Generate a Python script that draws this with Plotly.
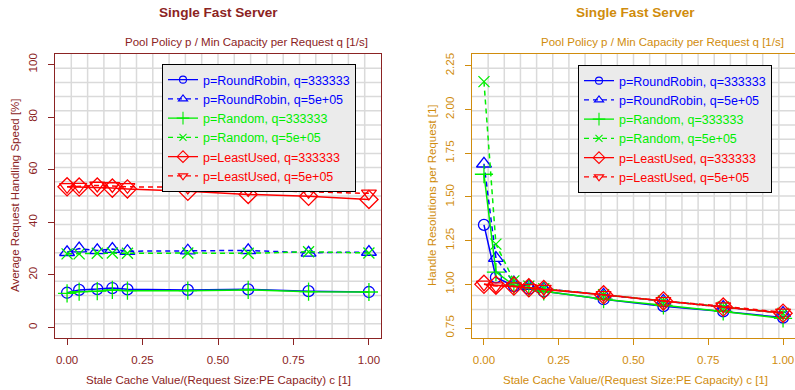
import plotly.graph_objects as go

# ---------------- data ----------------
c_values = [0, 0.04, 0.1, 0.15, 0.2, 0.4, 0.6, 0.8, 1.0]

series_names = [
    "p=RoundRobin, q=333333",
    "p=RoundRobin, q=5e+05",
    "p=Random, q=333333",
    "p=Random, q=5e+05",
    "p=LeastUsed, q=333333",
    "p=LeastUsed, q=5e+05",
]

# left: Average Request Handling Speed [%]
speed_rr_333 = [13.2, 14.3, 14.6, 15.0, 14.5, 14.3, 14.5, 13.8, 13.5]
speed_rr_5e5 = [28.6, 30.0, 29.3, 29.8, 29.0, 29.2, 29.3, 28.4, 28.7]
speed_rand_333 = [13.0, 13.6, 13.8, 14.3, 14.0, 14.0, 14.3, 13.6, 13.5]
speed_rand_5e5 = [28.0, 28.0, 28.2, 28.3, 28.2, 28.3, 28.2, 28.8, 28.3]
speed_lu_333 = [53.5, 53.4, 53.4, 53.0, 52.7, 51.8, 50.6, 49.9, 48.7]
speed_lu_5e5 = [53.5, 53.6, 54.0, 53.8, 53.5, 53.3, 52.3, 51.6, 51.0]

# right: Handle Resolutions per Request [1]
hr_rr_333 = [1.34, 1.04, 0.99, 0.975, 0.96, 0.915, 0.875, 0.845, 0.81]
hr_rr_5e5 = [1.69, 1.15, 1.01, 0.99, 0.975, 0.94, 0.905, 0.87, 0.835]
hr_rand_333 = [1.63, 1.07, 0.995, 0.98, 0.96, 0.915, 0.88, 0.845, 0.805]
hr_rand_5e5 = [2.16, 1.23, 1.02, 0.99, 0.975, 0.94, 0.905, 0.87, 0.835]
hr_lu_333 = [1.0, 0.995, 0.99, 0.98, 0.97, 0.94, 0.905, 0.87, 0.835]
hr_lu_5e5 = [1.0, 0.99, 0.99, 0.98, 0.975, 0.94, 0.905, 0.875, 0.84]

left_series = [speed_rr_333, speed_rr_5e5, speed_rand_333, speed_rand_5e5, speed_lu_333, speed_lu_5e5]
right_series = [hr_rr_333, hr_rr_5e5, hr_rand_333, hr_rand_5e5, hr_lu_333, hr_lu_5e5]

left_yticks = [0, 20, 40, 60, 80, 100]
right_yticks = [0.75, 1.00, 1.25, 1.50, 1.75, 2.00, 2.25]
xticks = [0, 0.25, 0.5, 0.75, 1.0]

# ---------------- styles ----------------
colors = ["#0000FF", "#0000FF", "#00EE00", "#00EE00", "#FF0000", "#FF0000"]
dashes = ["solid", "5px,4px", "solid", "5px,4px", "solid", "5px,4px"]
symbols = ["circle-open", "triangle-up-open", "cross-thin-open", "x-thin-open",
           "diamond-open", "triangle-down-open"]
sizes = [11, 13, 13, 11, 14, 13]
legend_sizes = [7, 8, 9, 7, 9, 8]

LEFT_COL = "#8B2323"
RIGHT_COL = "#D08C0C"
FONT = "Liberation Sans, Arial, Helvetica, sans-serif"
FS = 11.5

W, H = 795, 390
OFF = 0  # body margin removed below, so figure pixels == page pixels


def px(x):
    return (x - OFF) / W


def py(y):
    return 1 - (y - OFF) / H


ydom = [py(338), py(54)]
xdom_l = [px(55), px(381)]
xdom_r = [px(472), min(1.0, px(797))]

fig = go.Figure()

panels = (("x", "y", "legend", left_series), ("x2", "y2", "legend2", right_series))
for xa, ya, leg, data in panels:
    for i, (name, ys) in enumerate(zip(series_names, data)):
        fig.add_trace(go.Scatter(
            x=c_values, y=ys, mode="lines+markers", xaxis=xa, yaxis=ya,
            name=name, showlegend=False,
            line=dict(color=colors[i], width=1.5, dash=dashes[i]),
            marker=dict(symbol=symbols[i], size=sizes[i], color=colors[i],
                        line=dict(color=colors[i], width=1.3)),
        ))
    # legend entries (no data drawn; only the key)
    for i, name in enumerate(series_names):
        fig.add_trace(go.Scatter(
            x=[None], y=[None], mode="lines+markers", xaxis=xa, yaxis=ya,
            name=f"<span style='color:{colors[i]}'>{name}</span>",
            line=dict(color=colors[i], width=1.3, dash=dashes[i]),
            marker=dict(symbol=symbols[i], size=legend_sizes[i], color=colors[i],
                        line=dict(color=colors[i], width=1.1)),
            legend=leg, hoverinfo="skip",
        ))

# grid (20 divisions of the plotting region, like the original)
shapes = []
for xr, yr in (("x domain", "y domain"), ("x2 domain", "y2 domain")):
    for k in range(1, 20):
        f = k / 20
        shapes.append(dict(type="line", xref=xr, yref=yr, x0=f, x1=f, y0=0, y1=1,
                           line=dict(color="#DADADA", width=1.5), layer="below"))
        shapes.append(dict(type="line", xref=xr, yref=yr, x0=0, x1=1, y0=f, y1=f,
                           line=dict(color="#DADADA", width=1.5), layer="below"))


def xaxis(dom, col, anchor):
    return dict(domain=dom, anchor=anchor, range=[-0.04, 1.04], tickvals=xticks,
                ticktext=[f"{v:.2f}" for v in xticks], ticks="outside", ticklen=6,
                tickcolor=col, tickwidth=1, showline=True, mirror=True, linecolor=col,
                linewidth=1, showgrid=False, zeroline=False,
                tickfont=dict(family=FONT, size=FS, color=col), ticklabelstandoff=5)


def yaxis(rng, ticks, fmt, col, anchor):
    return dict(domain=ydom, anchor=anchor, range=rng, tickvals=ticks,
                ticktext=[fmt(v) for v in ticks], ticks="outside", ticklen=6,
                tickcolor=col, tickwidth=1, showline=True, mirror=True, linecolor=col,
                linewidth=1, showgrid=False, zeroline=False, tickangle=-90,
                tickfont=dict(family=FONT, size=FS, color=col), ticklabelstandoff=6)


legend_common = dict(bgcolor="#EBEBEB", bordercolor="#000000", borderwidth=1,
                     font=dict(family=FONT, size=12.5), xanchor="left", yanchor="top",
                     tracegroupgap=0, itemclick=False, itemwidth=30)

ann = []
for (cx, col, ytitle, yx) in ((218, LEFT_COL, "Average Request Handling Speed [%]", 15),
                              (635, RIGHT_COL, "Handle Resolutions per Request [1]", 432)):
    ann.append(dict(text="<b>Single Fast Server</b>", x=px(cx), y=py(12), xref="paper", yref="paper",
                    showarrow=False, font=dict(family=FONT, size=13.6, color=col),
                    xanchor="center", yanchor="middle"))
    ann.append(dict(text="Stale Cache Value/(Request Size:PE Capacity) c [1]", x=px(cx), y=py(380),
                    xref="paper", yref="paper", showarrow=False,
                    font=dict(family=FONT, size=FS, color=col), xanchor="center", yanchor="middle"))
    ann.append(dict(text=ytitle, x=px(yx), y=py(195), xref="paper", yref="paper", showarrow=False,
                    textangle=-90, font=dict(family=FONT, size=FS, color=col),
                    xanchor="center", yanchor="middle"))
ann.append(dict(text="Pool Policy p / Min Capacity per Request q [1/s]", x=px(370), y=py(42),
                xref="paper", yref="paper", showarrow=False,
                font=dict(family=FONT, size=FS, color=LEFT_COL), xanchor="right", yanchor="middle"))
ann.append(dict(text="Pool Policy p / Min Capacity per Request q [1/s]", x=px(786), y=py(42),
                xref="paper", yref="paper", showarrow=False,
                font=dict(family=FONT, size=FS, color=RIGHT_COL), xanchor="right", yanchor="middle"))

fig.update_layout(
    width=W, height=H, margin=dict(l=0, r=0, t=0, b=0, pad=0),
    paper_bgcolor="white", plot_bgcolor="white",
    font=dict(family=FONT, size=FS),
    xaxis=xaxis(xdom_l, LEFT_COL, "y"),
    yaxis=yaxis([-4, 104], left_yticks, lambda v: f"{v:d}", LEFT_COL, "x"),
    xaxis2=xaxis(xdom_r, RIGHT_COL, "y2"),
    yaxis2=yaxis([0.693, 2.318], right_yticks, lambda v: f"{v:.2f}", RIGHT_COL, "x2"),
    legend=dict(x=px(162), y=py(64), **legend_common),
    legend2=dict(x=px(578), y=py(65), **legend_common),
    shapes=shapes, annotations=ann, showlegend=True,
)

fig.write_html("out.html", config={"displayModeBar": False},
               post_script="document.body.style.margin='0';")
